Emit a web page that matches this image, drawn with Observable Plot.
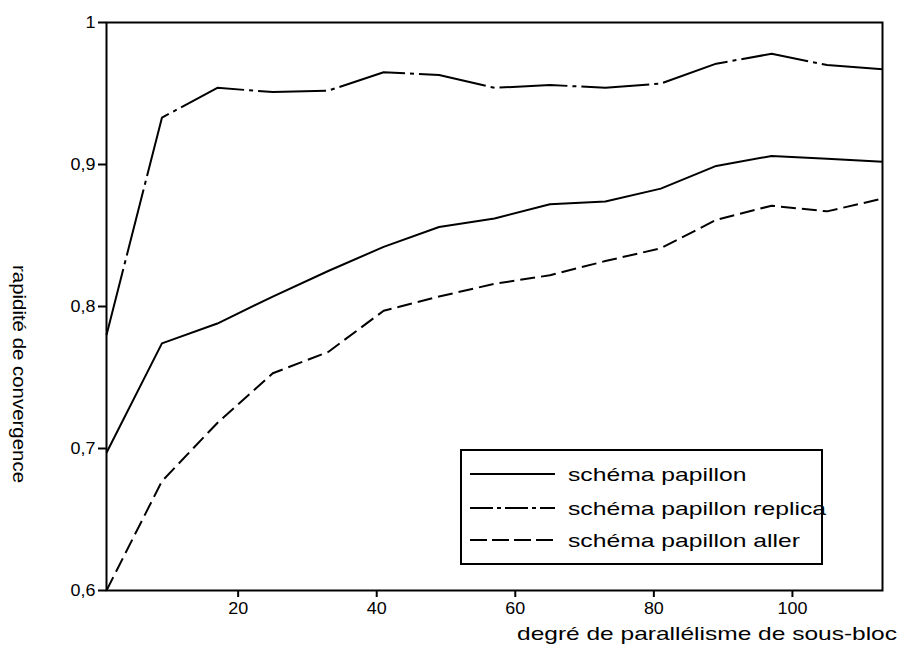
<!DOCTYPE html>
<html>
<head>
<meta charset="utf-8">
<script src="https://cdn.jsdelivr.net/npm/d3@7"></script>
<script src="https://cdn.jsdelivr.net/npm/@observablehq/plot@0.6"></script>
<style>
  html, body { margin: 0; padding: 0; background: #fff; }
  #chart { position: relative; width: 905px; height: 650px; }
</style>
</head>
<body>
<div id="chart"></div>
<script>
// ---- data ----
const degre = [1, 9, 17, 25, 33, 41, 49, 57, 65, 73, 81, 89, 97, 105, 113];
const papillon = [0.697, 0.774, 0.788, 0.807, 0.825, 0.842, 0.856, 0.862, 0.872, 0.874, 0.883, 0.899, 0.906, 0.904, 0.902];
const replica  = [0.780, 0.933, 0.954, 0.951, 0.952, 0.965, 0.963, 0.954, 0.956, 0.954, 0.957, 0.971, 0.978, 0.970, 0.967];
const aller    = [0.600, 0.677, 0.718, 0.753, 0.768, 0.797, 0.807, 0.816, 0.822, 0.832, 0.841, 0.861, 0.871, 0.867, 0.876];
const seriesNames = ["schéma papillon", "schéma papillon replica", "schéma papillon aller"];
const xTicks = [20, 40, 60, 80, 100];
const yTicks = [0.6, 0.7, 0.8, 0.9, 1];
const xLabel = "degré de parallélisme de sous-bloc";
const yLabel = "rapidité de convergence";

// ---- styles ----
const FONT = "'Liberation Sans', Arial, Helvetica, sans-serif";
const dashes = ["none", "68,5,4,5", "15,6"];
const seriesValues = [papillon, replica, aller];

const table = (vals, s) => degre.map((d, i) => ({degre: d, v: vals[i], s}));
const fmt = d => d === 1 ? "1" : String(d).replace(".", ",");

const marks = [
  Plot.axisY({ticks: yTicks, tickFormat: fmt, tickSize: 8, tickPadding: 3, label: null, strokeWidth: 2, fontSize: 16}),
  Plot.axisX({ticks: xTicks, tickSize: 7, tickPadding: 5, label: null, strokeWidth: 2, fontSize: 16}),
];
seriesValues.forEach((vals, k) => {
  marks.push(Plot.line(table(vals, seriesNames[k]), {
    x: "degre", y: "v", stroke: "black", strokeWidth: 2,
    strokeDasharray: dashes[k], strokeLinejoin: "miter", strokeLinecap: "butt"
  }));
});
marks.push(Plot.frame({stroke: "black", strokeWidth: 2}));

const chart = Plot.plot({
  width: 905,
  height: 650,
  marginLeft: 106,
  marginRight: 23,
  marginTop: 22,
  marginBottom: 60,
  x: {domain: [1, 113]},
  y: {domain: [0.6, 1]},
  style: {fontFamily: FONT, fontSize: "16px", color: "black", background: "white", overflow: "visible"},
  marks
});
document.getElementById("chart").appendChild(chart);

const svg = d3.select(chart);
// the original's lettering is slightly wide: stretch glyphs horizontally
function stretch(sel, k) {
  sel.each(function() {
    const w = this.getComputedTextLength();
    this.setAttribute("textLength", (w * k).toFixed(1));
    this.setAttribute("lengthAdjust", "spacingAndGlyphs");
  });
}
stretch(svg.selectAll('g[aria-label$="tick label"] text'), 1.12);

// ---- axis titles ----
const tg = svg.append("g").attr("font-family", FONT).attr("fill", "black").attr("font-size", 19);
const xt = tg.append("text").attr("x", 897).attr("y", 633).attr("dy", "0.35em")
  .attr("text-anchor", "end").text(xLabel);
const yt = tg.append("text").attr("transform", "translate(20,374) rotate(90)").attr("dy", "0.35em")
  .attr("text-anchor", "middle").text(yLabel);
xt.attr("textLength", 380).attr("lengthAdjust", "spacingAndGlyphs");
yt.attr("textLength", 218).attr("lengthAdjust", "spacingAndGlyphs");

// ---- legend ----
const lg = svg.append("g").attr("font-family", FONT).attr("font-size", 19);
lg.append("rect").attr("x", 461).attr("y", 450).attr("width", 361).attr("height", 114)
  .attr("fill", "white").attr("stroke", "black").attr("stroke-width", 2);
const rowsY = [474, 508, 540];
const texts = [];
seriesNames.forEach((name, k) => {
  lg.append("line").attr("x1", 470).attr("x2", 555).attr("y1", rowsY[k]).attr("y2", rowsY[k])
    .attr("stroke", "black").attr("stroke-width", 2)
    .attr("stroke-dasharray", k === 1 ? "23,4,4,4" : (k === 2 ? "17,5" : null));
  texts.push(lg.append("text").attr("x", 568).attr("y", rowsY[k]).attr("dy", "0.35em")
    .attr("text-anchor", "start").attr("fill", "black").text(name));
});
// the longest entry reaches just past the box edge, as in the original
const kLeg = 258 / texts[1].node().getComputedTextLength();
texts.forEach(t => stretch(t, kLeg));
</script>
</body>
</html>
